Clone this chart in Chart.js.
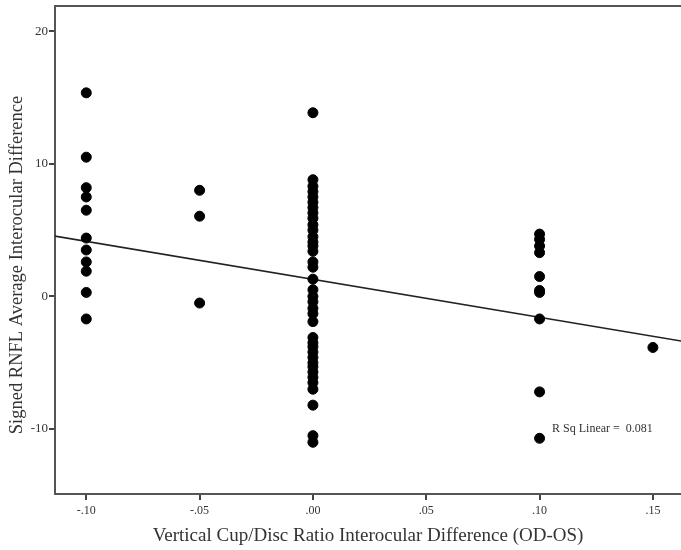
<!DOCTYPE html>
<html>
<head>
<meta charset="utf-8">
<script src="https://cdn.jsdelivr.net/npm/chart.js@4"></script>
<style>
  body { margin: 0; background: #fff; }
  #wrap { width: 681px; height: 550px; }
</style>
</head>
<body>
<div id="wrap"><canvas id="myChart" width="681" height="550"></canvas></div>
<script>
// cup/disc ratio difference columns and the RNFL differences in each
const colX = [-0.10, -0.05, 0, 0.10, 0.15];
const yAtMinus10 = [15.35, 10.5, 8.2, 7.5, 6.5, 4.4, 3.5, 2.6, 1.9, 0.3, -1.7];
const yAtMinus05 = [8.0, 6.05, -0.5];
const yAtZero = [
  13.85, 8.8, 8.3, 7.9, 7.5, 7.1, 6.7, 6.3, 5.9, 5.4, 5.0, 4.5, 4.1, 3.8, 3.4, 2.6, 2.2, 1.3,
  0.5, 0.0, -0.4, -0.9, -1.3, -1.9,
  -3.1, -3.5, -3.8, -4.2, -4.6, -5.0, -5.3, -5.7, -6.1, -6.5, -7.0, -8.2, -10.5, -11.0
];
const yAtPlus10 = [4.7, 4.3, 3.8, 3.3, 1.5, 0.45, 0.3, -1.7, -7.2, -10.7];
const yAtPlus15 = [-3.85];
const colY = [yAtMinus10, yAtMinus05, yAtZero, yAtPlus10, yAtPlus15];

// fit line end points
const fitX = [-0.114, 0.163];
const fitY = [4.55, -3.38];

const xTicks = [-0.10, -0.05, 0, 0.05, 0.10, 0.15];
const yTicks = [-10, 0, 10, 20];

const xTitle = 'Vertical Cup/Disc Ratio Interocular Difference (OD-OS)';
const yTitle = 'Signed RNFL Average Interocular Difference';
const rsqText = 'R Sq Linear =  0.081';

const serif = '"Liberation Serif", "DejaVu Serif", serif';

function fmtTick(v) {
  let s = Math.abs(v).toFixed(2).replace(/^0/, '');
  return (v < 0 ? '-' : '') + s;
}

const points = [];
colX.forEach((x, i) => colY[i].forEach(y => points.push({ x: x, y: y })));

const frame = {
  id: 'frame',
  afterDraw(chart) {
    const { ctx, chartArea: a, scales } = chart;
    ctx.save();
    // top border
    ctx.strokeStyle = '#555';
    ctx.lineWidth = 2;
    ctx.beginPath();
    ctx.moveTo(a.left - 1, a.top);
    ctx.lineTo(a.right, a.top);
    ctx.stroke();

    ctx.fillStyle = '#333';
    ctx.font = '19px ' + serif;
    ctx.textAlign = 'center';
    ctx.textBaseline = 'middle';
    ctx.fillText(xTitle, 368, 536);

    ctx.save();
    ctx.font = '18.5px ' + serif;
    ctx.translate(17, 265);
    ctx.rotate(-Math.PI / 2);
    ctx.fillText(yTitle, 0, 0);
    ctx.restore();

    ctx.font = '12px ' + serif;
    ctx.textAlign = 'left';
    ctx.fillText(rsqText, scales.x.getPixelForValue(0.1055), scales.y.getPixelForValue(-9.98));
    ctx.restore();
  }
};

new Chart(document.getElementById('myChart'), {
  data: {
    datasets: [
      {
        type: 'scatter',
        data: points,
        backgroundColor: '#000',
        borderColor: '#000',
        pointRadius: 5,
        pointHoverRadius: 5
      },
      {
        type: 'line',
        data: fitX.map((x, i) => ({ x: x, y: fitY[i] })),
        borderColor: '#222',
        borderWidth: 1.6,
        pointRadius: 0,
        fill: false
      }
    ]
  },
  options: {
    responsive: false,
    animation: false,
    layout: { autoPadding: false, padding: { top: 6, right: 0, left: 0, bottom: 0 } },
    plugins: { legend: { display: false }, tooltip: { enabled: false } },
    scales: {
      x: {
        type: 'linear',
        min: -0.1138,
        max: 0.1624,
        afterFit: s => { s.height = 56; s.paddingLeft = 0; s.paddingRight = 0; },
        afterBuildTicks: s => { s.ticks = xTicks.map(v => ({ value: v })); },
        grid: { drawOnChartArea: false, tickLength: 6, color: '#444', lineWidth: 2 },
        border: { display: true, color: '#555', width: 2 },
        ticks: {
          autoSkip: false,
          maxRotation: 0,
          padding: 4,
          color: '#333',
          font: { family: serif, size: 12 },
          callback: v => fmtTick(v)
        }
      },
      y: {
        type: 'linear',
        min: -14.9,
        max: 21.9,
        afterFit: s => { s.width = 55; s.paddingTop = 0; s.paddingBottom = 0; },
        afterBuildTicks: s => { s.ticks = yTicks.map(v => ({ value: v })); },
        grid: { drawOnChartArea: false, tickLength: 6, color: '#444', lineWidth: 2 },
        border: { display: true, color: '#555', width: 2 },
        ticks: {
          padding: 1,
          color: '#333',
          font: { family: serif, size: 13 }
        }
      }
    }
  },
  plugins: [frame]
});
</script>
</body>
</html>
